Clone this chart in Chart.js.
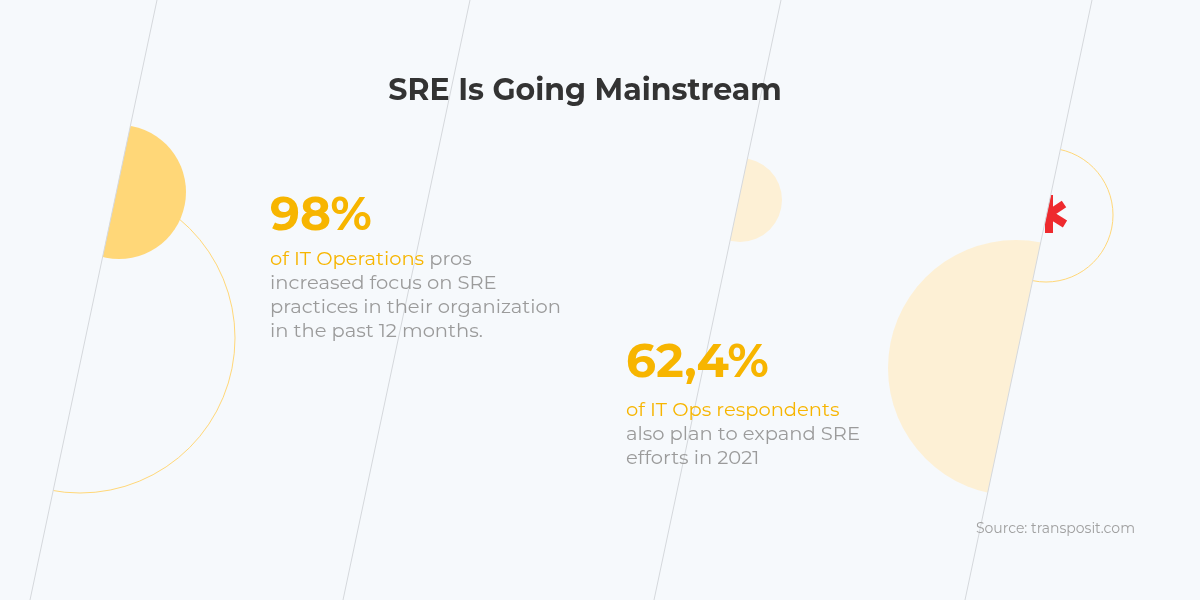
<!DOCTYPE html>
<html><head><meta charset="utf-8">
<script src="https://cdn.jsdelivr.net/npm/chart.js@4/dist/chart.umd.min.js"></script>
<style>html,body{margin:0;padding:0;background:#F6F9FC;}#w{width:1200px;height:600px;}</style>
</head><body><div id="w"><canvas id="c"></canvas></div>
<script>
const categories = ["of IT Operations", "of IT Ops respondents"];
const statValues = [98, 62.4];
const statRest = [["pros", "increased focus on SRE", "practices in their organization", "in the past 12 months."],
                  ["", "also plan to expand SRE", "efforts in 2021"]];
const title = "SRE Is Going Mainstream";
const source = "Source: transposit.com";

const FONT = "Montserrat, Inter, 'Open Sans', sans-serif";
function lineX(top, y){ return top - 127*y/600; }
function clipSide(ctx, top, right){
  ctx.beginPath();
  if(right){ ctx.moveTo(top,0); ctx.lineTo(1200,0); ctx.lineTo(1200,600); ctx.lineTo(lineX(top,600),600); }
  else { ctx.moveTo(top,0); ctx.lineTo(0,0); ctx.lineTo(0,600); ctx.lineTo(lineX(top,600),600); }
  ctx.closePath(); ctx.clip();
}
const deco = {
  id:'deco',
  beforeDraw(chart){
    const ctx = chart.ctx;
    ctx.save();
    ctx.fillStyle='#F6F9FC'; ctx.fillRect(0,0,1200,600);
    ctx.save(); clipSide(ctx,157,true);
    ctx.strokeStyle='#FFD778'; ctx.lineWidth=1;
    ctx.beginPath(); ctx.arc(80,338,155,0,Math.PI*2); ctx.stroke();
    ctx.fillStyle='#FFD778'; ctx.beginPath(); ctx.arc(119,192,67,0,Math.PI*2); ctx.fill();
    ctx.restore();
    ctx.save(); clipSide(ctx,781,true);
    ctx.fillStyle='#FDF0D5'; ctx.beginPath(); ctx.arc(740,200,42,0,Math.PI*2); ctx.fill();
    ctx.restore();
    ctx.save(); clipSide(ctx,1092,false);
    ctx.fillStyle='#FDF0D5'; ctx.beginPath(); ctx.arc(1016,368,128,0,Math.PI*2); ctx.fill();
    ctx.restore();
    ctx.save(); clipSide(ctx,1092,true);
    ctx.strokeStyle='#FFD778'; ctx.lineWidth=1;
    ctx.beginPath(); ctx.arc(1046,215,67,0,Math.PI*2); ctx.stroke();
    ctx.strokeStyle='#EE2A2E'; ctx.lineWidth=8; ctx.lineCap='butt';
    ctx.beginPath(); ctx.moveTo(1049,195); ctx.lineTo(1049,233);
    ctx.moveTo(1049,214); ctx.lineTo(1064,204);
    ctx.moveTo(1049,214); ctx.lineTo(1065,224); ctx.stroke();
    ctx.restore();
    ctx.strokeStyle='#D5D8DC'; ctx.lineWidth=1;
    [157,470,781,1092].forEach(t=>{ctx.beginPath();ctx.moveTo(t,0);ctx.lineTo(lineX(t,600),600);ctx.stroke();});
    ctx.textBaseline='alphabetic';
    ctx.fillStyle='#333333'; ctx.font='bold 30px '+FONT; ctx.textAlign='center';
    ctx.fillText(title,585,100);
    ctx.textAlign='left';
    const pos=[[270,230,265],[626,377,416]];
    statValues.forEach((v,i)=>{
      const [x,yb,yt]=pos[i];
      ctx.fillStyle='#F7B500'; ctx.font='bold 47px '+FONT;
      ctx.fillText(String(v).replace('.',',')+'%',x,yb);
      ctx.font='19.5px '+FONT;
      ctx.fillText(categories[i],x,yt);
      const w=ctx.measureText(categories[i]+' ').width;
      ctx.fillStyle='#9B9B9B';
      ctx.fillText(statRest[i][0],x+w,yt);
      statRest[i].slice(1).forEach((s,k)=>ctx.fillText(s,x,yt+24*(k+1)));
    });
    ctx.fillStyle='#A0A0A0'; ctx.font='14px '+FONT; ctx.textAlign='right';
    ctx.fillText(source,1135,533);
    ctx.restore();
  }
};
new Chart(document.getElementById('c'),{
  type:'bar',
  data:{labels:categories,datasets:[{data:statValues,backgroundColor:'rgba(0,0,0,0)'}]},
  options:{responsive:true,maintainAspectRatio:false,animation:false,
    plugins:{legend:{display:false},tooltip:{enabled:false}},
    scales:{x:{display:false},y:{display:false,min:0,max:100}}},
  plugins:[deco]
});
</script></body></html>
